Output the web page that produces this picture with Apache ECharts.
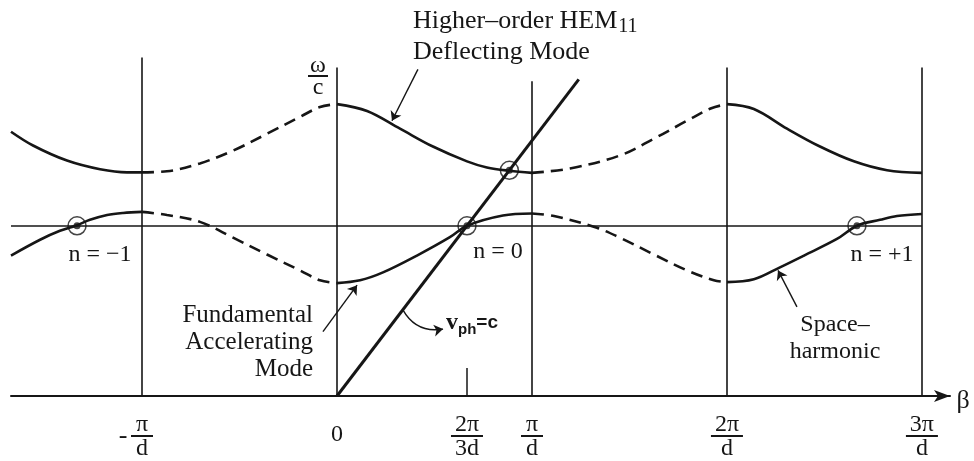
<!DOCTYPE html>
<html>
<head>
<meta charset="utf-8">
<script src="https://cdn.jsdelivr.net/npm/echarts@6/dist/echarts.min.js"></script>
<style>
  html, body { margin: 0; padding: 0; background: #fff; }
  #chart { width: 974px; height: 461px; }
</style>
</head>
<body>
<div id="chart"></div>
<script>
// β in units of π/d; ω/c in the same units, so the light line is ω/c = β.
const xMin = -1.672;
const xMax = 3.144;
const yMax = 1.5;

// Axis tick labels (β axis)
const tickValues = [-1, 0, 2 / 3, 1, 2, 3];
const tickLabels = ['-π/d', '0', '2π/3d', 'π/d', '2π/d', '3π/d'];
const innerTickValues = [2 / 3];

// Brillouin-zone boundaries and the height each guide line reaches
const zoneEdges = [-1, 0, 1, 2, 3];
const zoneEdgeTops = [1.326, 1.287, 1.233, 1.287, 1.287];

// Operating frequency level and the light line end
const operatingLevel = 2 / 3;
const lightLineEnd = 1.24;

// Higher-order HEM11 deflecting mode (upper branch)
const hemSolidA = [[-1.672, 1.035], [-1.559, 0.981], [-1.385, 0.922], [-1.215, 0.888], [-1.077, 0.876], [-1.0, 0.876]];
const hemDashedA = [[-1.0, 0.876], [-0.872, 0.880], [-0.703, 0.911], [-0.533, 0.961], [-0.359, 1.027], [-0.190, 1.093], [-0.087, 1.132], [0, 1.143]];
const hemSolidB = [[0, 1.143], [0.154, 1.116], [0.323, 1.047], [0.492, 0.977], [0.667, 0.919], [0.769, 0.895], [0.884, 0.882], [1.0, 0.874]];
const hemDashedB = [[1.0, 0.874], [1.195, 0.891], [1.451, 0.942], [1.626, 1.008], [1.795, 1.078], [1.92, 1.127], [2.0, 1.143]];
const hemSolidC = [[2.0, 1.143], [2.138, 1.124], [2.308, 1.047], [2.477, 0.977], [2.651, 0.919], [2.821, 0.884], [3.0, 0.874]];

// Fundamental accelerating mode and its space harmonics (lower branch)
const fundSolidA = [[-1.672, 0.550], [-1.523, 0.612], [-1.421, 0.647], [-1.333, 0.669], [-1.267, 0.690], [-1.179, 0.709], [-1.097, 0.717], [-1.0, 0.721]];
const fundDashedA = [[-1.0, 0.721], [-0.872, 0.709], [-0.703, 0.682], [-0.533, 0.620], [-0.359, 0.554], [-0.190, 0.492], [-0.087, 0.453], [0, 0.442]];
const fundSolidB = [[0, 0.442], [0.118, 0.453], [0.236, 0.484], [0.410, 0.550], [0.579, 0.622], [0.667, 0.667], [0.851, 0.707], [1.0, 0.715]];
const fundDashedB = [[1.0, 0.715], [1.113, 0.705], [1.333, 0.659], [1.451, 0.620], [1.626, 0.554], [1.795, 0.492], [1.933, 0.453], [2.0, 0.446]];
const fundSolidC = [[2.0, 0.446], [2.138, 0.457], [2.272, 0.504], [2.395, 0.550], [2.564, 0.615], [2.667, 0.667], [2.785, 0.690], [2.872, 0.705], [3.0, 0.713]];

// Synchronous points (circled)
const syncPoints = [[-4 / 3, 2 / 3], [2 / 3, 2 / 3], [8 / 3, 2 / 3], [0.884, 0.884]];

// Pointer arrows: [from, to]
const arrowHem = [[0.415, 1.279], [0.282, 1.078]];
const arrowFund = [[-0.072, 0.252], [0.103, 0.434]];
const arrowSpace = [[2.359, 0.349], [2.262, 0.492]];
const arrowLight = [[0.338, 0.337], [0.544, 0.262]];

const INK = '#161616';
const SERIF = '"Liberation Serif", "DejaVu Serif", serif';

function fraction(label) {
  if (label.indexOf('/') < 0) return '{z|' + label + '}';
  let neg = false;
  if (label[0] === '-') { neg = true; label = label.slice(1); }
  const parts = label.split('/');
  const bar = (parts[0].length > 1 || parts[1].length > 1) ? 'bw' : 'b';
  if (neg) {
    return '{sp| }{n|' + parts[0] + '}{sp| }\n{m|-}{' + bar + '| }{sp| }\n{sp| }{d|' + parts[1] + '}{sp| }';
  }
  return '{n|' + parts[0] + '}\n{' + bar + '| }\n{d|' + parts[1] + '}';
}

function curve(data, dashed) {
  return {
    type: 'line',
    data: data,
    smooth: 0.35,
    showSymbol: false,
    silent: true,
    lineStyle: { color: INK, width: 2.6, type: dashed ? [12, 7] : 'solid' },
    z: 3
  };
}

function arrow(pair, curveness) {
  return {
    type: 'lines',
    coordinateSystem: 'cartesian2d',
    symbol: ['none', 'arrow'],
    symbolSize: 9,
    silent: true,
    lineStyle: { color: INK, width: 1.4, curveness: curveness || 0, opacity: 1 },
    data: [{ coords: pair }],
    z: 4
  };
}

const chart = echarts.init(document.getElementById('chart'), null, { renderer: 'canvas' });

chart.setOption({
  animation: false,
  backgroundColor: '#ffffff',
  grid: { left: 11, right: 24, top: 13, bottom: 60 },
  xAxis: {
    type: 'value',
    min: xMin,
    max: xMax,
    splitLine: { show: false },
    axisLine: {
      show: true,
      onZero: true,
      symbol: ['none', 'arrow'],
      symbolSize: [9, 16],
      lineStyle: { color: INK, width: 2 }
    },
    axisTick: {
      show: true,
      customValues: innerTickValues,
      inside: true,
      length: 28,
      lineStyle: { color: INK, width: 1.5 }
    },
    axisLabel: {
      show: true,
      customValues: tickValues,
      margin: 19,
      color: INK,
      formatter: function (v) {
        for (let i = 0; i < tickValues.length; i++) {
          if (Math.abs(tickValues[i] - v) < 1e-6) return fraction(tickLabels[i]);
        }
        return '';
      },
      rich: {
        n: { fontFamily: SERIF, fontSize: 24, lineHeight: 20, color: INK },
        d: { fontFamily: SERIF, fontSize: 24, lineHeight: 24, color: INK },
        b: { fontSize: 2, width: 22, height: 2, lineHeight: 2, backgroundColor: INK },
        bw: { fontSize: 2, width: 32, height: 2, lineHeight: 2, backgroundColor: INK },
        m: { fontFamily: SERIF, fontSize: 26, width: 16, lineHeight: 2, color: INK },
        sp: { fontSize: 2, width: 16 },
        z: { fontFamily: SERIF, fontSize: 24, lineHeight: 40, color: INK }
      }
    }
  },
  yAxis: {
    type: 'value',
    min: 0,
    max: yMax,
    show: false
  },
  series: [
    {
      type: 'lines',
      coordinateSystem: 'cartesian2d',
      silent: true,
      lineStyle: { color: INK, width: 1.6, opacity: 1 },
      data: zoneEdges.map(function (x, i) { return { coords: [[x, 0], [x, zoneEdgeTops[i]]] }; }),
      z: 2
    },
    {
      type: 'lines',
      coordinateSystem: 'cartesian2d',
      silent: true,
      lineStyle: { color: INK, width: 1.6, opacity: 1 },
      data: [{ coords: [[xMin, operatingLevel], [zoneEdges[zoneEdges.length - 1], operatingLevel]] }],
      z: 2
    },
    {
      type: 'lines',
      coordinateSystem: 'cartesian2d',
      silent: true,
      lineStyle: { color: INK, width: 3, opacity: 1 },
      data: [{ coords: [[0, 0], [lightLineEnd, lightLineEnd]] }],
      z: 3
    },
    curve(hemSolidA, false),
    curve(hemDashedA, true),
    curve(hemSolidB, false),
    curve(hemDashedB, true),
    curve(hemSolidC, false),
    curve(fundSolidA, false),
    curve(fundDashedA, true),
    curve(fundSolidB, false),
    curve(fundDashedB, true),
    curve(fundSolidC, false),
    {
      type: 'scatter',
      data: syncPoints,
      symbol: 'circle',
      symbolSize: 18,
      silent: true,
      itemStyle: { color: 'rgba(255,255,255,0)', borderColor: INK, borderWidth: 1.5 },
      z: 5
    },
    {
      type: 'scatter',
      data: syncPoints,
      symbol: 'circle',
      symbolSize: 7,
      silent: true,
      itemStyle: { color: INK },
      z: 6
    },
    arrow(arrowHem),
    arrow(arrowFund),
    arrow(arrowSpace),
    arrow(arrowLight, -0.35)
  ],
  graphic: [
    {
      type: 'text', x: 413, y: 8, silent: true,
      style: {
        text: '{a|Higher–order HEM}{s|11}',
        verticalAlign: 'top', align: 'left',
        rich: {
          a: { fontFamily: SERIF, fontSize: 26, lineHeight: 30, verticalAlign: 'top', fill: INK, color: INK },
          s: { fontFamily: SERIF, fontSize: 20, lineHeight: 30, verticalAlign: 'top', padding: [9, 0, 0, 1], fill: INK, color: INK }
        }
      }
    },
    {
      type: 'text', x: 413, y: 52, silent: true,
      style: { text: 'Deflecting Mode', font: '26px ' + SERIF, fill: INK, verticalAlign: 'middle', align: 'left' }
    },
    {
      type: 'text', x: 318, y: 57, silent: true,
      style: {
        text: '{n|ω}\n{b| }\n{d|c}',
        align: 'center', verticalAlign: 'top',
        rich: {
          n: { fontFamily: SERIF, fontSize: 24, lineHeight: 18, fill: INK, color: INK },
          b: { fontSize: 2, width: 20, height: 2, lineHeight: 2, backgroundColor: INK },
          d: { fontFamily: SERIF, fontSize: 24, lineHeight: 22, fill: INK, color: INK }
        }
      }
    },
    {
      type: 'text', x: 100, y: 255, silent: true,
      style: { text: 'n = −1', font: '24px ' + SERIF, fill: INK, align: 'center', verticalAlign: 'middle' }
    },
    {
      type: 'text', x: 498, y: 252, silent: true,
      style: { text: 'n = 0', font: '24px ' + SERIF, fill: INK, align: 'center', verticalAlign: 'middle' }
    },
    {
      type: 'text', x: 882, y: 255, silent: true,
      style: { text: 'n = +1', font: '24px ' + SERIF, fill: INK, align: 'center', verticalAlign: 'middle' }
    },
    {
      type: 'text', x: 313, y: 342, silent: true,
      style: {
        text: 'Fundamental\nAccelerating\nMode',
        font: '25px ' + SERIF, lineHeight: 27, fill: INK, align: 'right', verticalAlign: 'middle'
      }
    },
    {
      type: 'text', x: 446, y: 323, silent: true,
      style: {
        text: '{v|v}{s|ph}{e|=c}',
        align: 'left', verticalAlign: 'middle',
        rich: {
          v: { fontFamily: '"Liberation Serif", serif', fontWeight: 'bold', fontSize: 24, lineHeight: 28, fill: INK, color: INK },
          s: { fontFamily: '"Liberation Sans", sans-serif', fontWeight: 'bold', fontSize: 15, lineHeight: 28, verticalAlign: 'bottom', fill: INK, color: INK },
          e: { fontFamily: '"Liberation Sans", sans-serif', fontWeight: 'bold', fontSize: 19, lineHeight: 28, fill: INK, color: INK }
        }
      }
    },
    {
      type: 'text', x: 835, y: 338, silent: true,
      style: {
        text: 'Space–\nharmonic',
        font: '24px ' + SERIF, lineHeight: 27, fill: INK, align: 'center', verticalAlign: 'middle'
      }
    },
    {
      type: 'text', x: 963, y: 401, silent: true,
      style: { text: 'β', font: '26px ' + SERIF, fill: INK, align: 'center', verticalAlign: 'middle' }
    }
  ]
});
</script>
</body>
</html>
